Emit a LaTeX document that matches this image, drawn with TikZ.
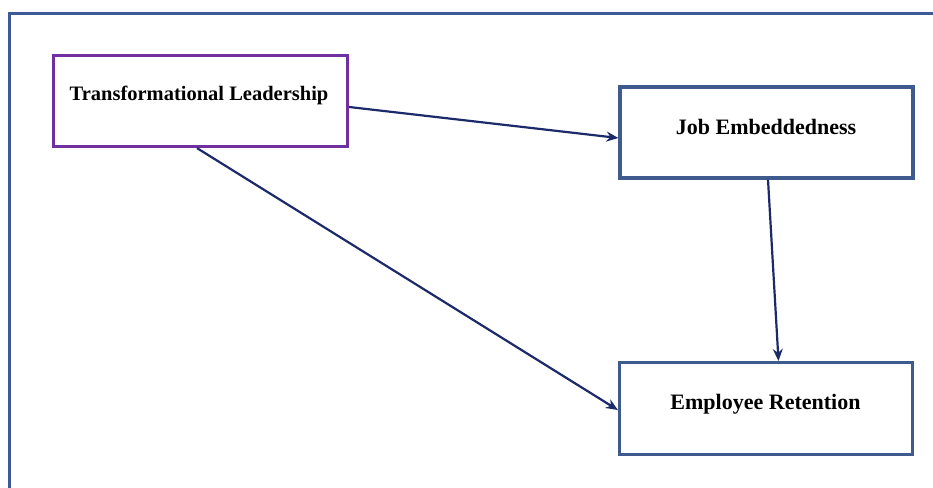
\documentclass[tikz,border=0pt]{standalone}
\usepackage{fontspec}
\setmainfont{Liberation Serif}
\usetikzlibrary{arrows.meta}
\definecolor{framec}{HTML}{3E5A96}
\definecolor{boxc}{HTML}{3F5A8C}
\definecolor{purp}{HTML}{7030A0}
\definecolor{arrc}{HTML}{1C2A6A}
\tikzset{
  box/.style={draw=boxc, line width=3.2pt, fill=white, inner sep=0pt},
  lbl/.style={inner sep=0pt, font=\bfseries\fontsize{22}{26}\selectfont},
  arr/.style={draw=arrc, line width=2.2pt, -{Stealth[length=12pt,width=10pt]}}
}
\begin{document}
\begin{tikzpicture}[x=1pt,y=1pt]
\useasboundingbox (0,0) rectangle (933,487);
\begin{scope}
\clip (0,0) rectangle (933,487);
\draw[framec, line width=3pt] (9.5,-20) -- (9.5,473) -- (960,473);
\end{scope}
\node[box, draw=purp, minimum width=294pt, minimum height=91pt] (tl) at (200.5,386) {};
\node[box, minimum width=293pt, minimum height=91pt] (je) at (766.5,354.5) {};
\node[box, minimum width=293pt, minimum height=92pt] (er) at (766,78.5) {};
\node[lbl, font=\bfseries\fontsize{20.5}{24}\selectfont] (tlt) at (199,392) {Transformational Leadership};
\node[lbl] (jet) at (766,360) {Job Embeddedness};
\node[lbl] (ert) at (765.5,83) {Employee Retention};
\draw[arr] (tl.east |- 0,380) -- (je.west |- 0,349);
\draw[arr] ([xshift=-3.5pt]tl.south) -- (er.west |- 0,77);
\draw[arr] ([xshift=1.5pt]je.south) -- ([xshift=12.5pt]er.north);
\end{tikzpicture}
\end{document}
